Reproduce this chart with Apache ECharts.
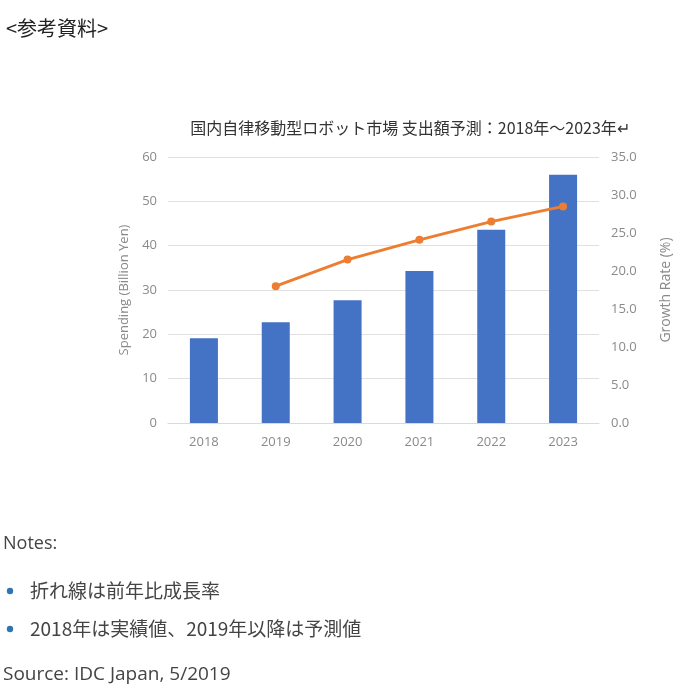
<!DOCTYPE html>
<html>
<head>
<meta charset="utf-8">
<script src="https://cdn.jsdelivr.net/npm/echarts@6/dist/echarts.min.js"></script>
<style>
  html, body { margin: 0; padding: 0; background: #fff; }
  #chart { width: 696px; height: 696px; }
</style>
</head>
<body>
<div id="chart"></div>
<script>
// data
const years = ['2018', '2019', '2020', '2021', '2022', '2023'];
const spending = [19.1, 22.7, 27.7, 34.3, 43.6, 56.0];
const growthRate = [null, 18.0, 21.5, 24.1, 26.5, 28.5];
const leftTicks = [0, 60, 10];
const rightTicks = [0, 35, 5];

const noteLines = ['折れ線は前年比成長率', '2018年は実績値、2019年以降は予測値'];

const chart = echarts.init(document.getElementById('chart'));

const labelColor = '#8a8a8a';
const cjk = '"Noto Sans CJK JP", "Noto Sans", sans-serif';
const bodyFont = '"Open Sans", "Noto Sans CJK JP", sans-serif';

const txt = (x, y, text, font, fill) => ({
  type: 'text', x: x, y: y,
  style: { text: text, font: font, fill: fill, verticalAlign: 'middle' }
});

const graphics = [
  txt(6, 28, '<参考資料>', '20px ' + cjk, '#222'),
  txt(3, 544, 'Notes:', '18px ' + bodyFont, '#444'),
  txt(3, 675, 'Source: IDC Japan, 5/2019', '19px ' + bodyFont, '#444')
];
noteLines.forEach((t, i) => {
  graphics.push({ type: 'circle', shape: { cx: 10, cy: 591 + i * 38, r: 3.2 }, style: { fill: '#2e75b6' } });
  graphics.push(txt(30, 591 + i * 38, t, '19px ' + cjk, '#444'));
});

const option = {
  backgroundColor: '#fff',
  title: {
    text: '国内自律移動型ロボット市場 支出額予測：2018年～2023年↵',
    left: 405,
    top: 115,
    textAlign: 'center',
    textStyle: { fontFamily: cjk, fontSize: 16, fontWeight: 'normal', color: '#333' }
  },
  graphic: graphics,
  grid: { left: 168, right: 97, top: 157, bottom: 273 },
  xAxis: {
    type: 'category',
    data: years,
    axisLine: { lineStyle: { color: '#d9d9d9' } },
    axisTick: { show: false },
    axisLabel: { color: labelColor, fontSize: 13, fontFamily: 'Open Sans', margin: 13 }
  },
  yAxis: [
    {
      type: 'value',
      min: leftTicks[0], max: leftTicks[1], interval: leftTicks[2],
      name: 'Spending (Billion Yen)',
      nameLocation: 'middle',
      nameGap: 35,
      nameTextStyle: { color: labelColor, fontSize: 13, fontFamily: 'Open Sans' },
      axisLine: { show: false },
      axisTick: { show: false },
      axisLabel: { color: labelColor, fontSize: 13, fontFamily: 'Open Sans', margin: 11 },
      splitLine: { lineStyle: { color: '#e0e0e0' } }
    },
    {
      type: 'value',
      min: rightTicks[0], max: rightTicks[1], interval: rightTicks[2],
      name: 'Growth Rate (%)',
      nameLocation: 'middle',
      nameGap: 60,
      nameRotate: 90,
      nameTextStyle: { color: labelColor, fontSize: 14, fontFamily: 'Open Sans' },
      axisLine: { show: false },
      axisTick: { show: false },
      axisLabel: { color: labelColor, fontSize: 13, fontFamily: 'Open Sans', margin: 12, formatter: v => v.toFixed(1) },
      splitLine: { show: false }
    }
  ],
  series: [
    {
      name: 'Spending',
      type: 'bar',
      data: spending,
      barWidth: '39%',
      itemStyle: { color: '#4472c4' }
    },
    {
      name: 'Growth Rate',
      type: 'line',
      yAxisIndex: 1,
      data: growthRate,
      symbol: 'circle',
      symbolSize: 8,
      lineStyle: { color: '#ed7d31', width: 3 },
      itemStyle: { color: '#ed7d31' }
    }
  ]
};

chart.setOption(option);
</script>
</body>
</html>
